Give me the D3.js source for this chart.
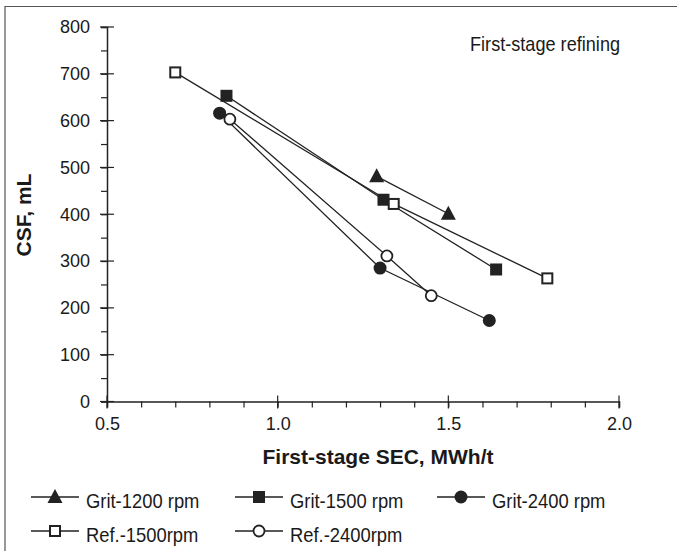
<!DOCTYPE html>
<html><head><meta charset="utf-8">
<script src="https://cdn.jsdelivr.net/npm/d3@7"></script>
<style>body{margin:0;background:#fff}svg{display:block}text{font-family:"Liberation Sans",Arial,sans-serif;fill:#1a1a1a}</style>
</head><body><svg id="c" width="677" height="551"></svg>
<script>
const xTicks = [0.5, 1.0, 1.5, 2.0];
const yTicks = [0, 100, 200, 300, 400, 500, 600, 700, 800];
const seriesNames = ["Grit-1200 rpm", "Grit-1500 rpm", "Grit-2400 rpm", "Ref.-1500rpm", "Ref.-2400rpm"];
const grit1200 = [[1.29, 481], [1.50, 401]];
const grit1500 = [[0.85, 653], [1.31, 431], [1.64, 282]];
const grit2400 = [[0.83, 616], [1.30, 285], [1.62, 173]];
const ref1500 = [[0.70, 703], [1.34, 422], [1.79, 263]];
const ref2400 = [[0.86, 603], [1.32, 311], [1.45, 226]];

const svg = d3.select("#c");
const ink = "#222";
const x = d3.scaleLinear().domain([0.5, 2.0]).range([107, 619]);
const y = d3.scaleLinear().domain([0, 800]).range([401.5, 27]);

// frame
svg.append("path").attr("d", "M5,551 V6.5 H677").attr("fill", "none").attr("stroke", "#555").attr("stroke-width", 1.2);

// axes
const xAx = svg.append("g").attr("transform", `translate(0,${y(0)})`)
  .call(d3.axisBottom(x).tickValues(d3.range(5, 21).map(d => d / 10)).tickSize(6).tickFormat(""));
xAx.select(".domain").attr("stroke", ink).attr("stroke-width", 1.5);
xAx.selectAll(".tick line").attr("stroke", ink).attr("stroke-width", 1.2);
const xMaj = svg.append("g").attr("transform", `translate(0,${y(0)})`)
  .call(d3.axisBottom(x).tickValues(xTicks).tickSize(0).tickPadding(16).tickFormat(d3.format(".1f")));
xMaj.select(".domain").remove();
xMaj.selectAll(".tick text").attr("font-size", 18).attr("fill", "#1a1a1a").attr("font-family", "Liberation Sans, Arial, sans-serif");
xTicks.forEach(t => svg.append("line").attr("x1", x(t)).attr("x2", x(t)).attr("y1", y(0) - 6).attr("y2", y(0) + 7).attr("stroke", ink).attr("stroke-width", 1.2));

const yAx = svg.append("g").attr("transform", `translate(${x(0.5)},0)`)
  .call(d3.axisLeft(y).tickValues(d3.range(0, 801, 50)).tickSize(6).tickFormat(""));
yAx.select(".domain").attr("stroke", ink).attr("stroke-width", 1.5);
yAx.selectAll(".tick line").attr("stroke", ink).attr("stroke-width", 1.2);
const yMaj = svg.append("g").attr("transform", `translate(${x(0.5)},0)`)
  .call(d3.axisLeft(y).tickValues(yTicks).tickSize(0).tickPadding(17).tickFormat(d3.format("d")));
yMaj.select(".domain").remove();
yMaj.selectAll(".tick text").attr("font-size", 18).attr("fill", "#1a1a1a").attr("font-family", "Liberation Sans, Arial, sans-serif");
yTicks.forEach(t => svg.append("line").attr("x1", x(0.5) - 7).attr("x2", x(0.5) + 7).attr("y1", y(t)).attr("y2", y(t)).attr("stroke", ink).attr("stroke-width", 1.2));

// labels
svg.append("text").attr("x", 378).attr("y", 464).attr("text-anchor", "middle").attr("font-size", 21).attr("font-weight", "bold").text("First-stage SEC, MWh/t");
svg.append("text").attr("transform", "translate(31,215) rotate(-90)").attr("text-anchor", "middle").attr("font-size", 21).attr("font-weight", "bold").text("CSF, mL");
svg.append("text").attr("transform", "translate(470,51) scale(0.93,1)").attr("font-size", 19.5).text("First-stage refining");

// markers
function marker(g, type, cx, cy) {
  if (type === "tri") g.append("path").attr("d", `M${cx},${cy - 8} L${cx + 7.5},${cy + 6} L${cx - 7.5},${cy + 6} Z`).attr("fill", ink);
  else if (type === "sq") g.append("rect").attr("x", cx - 6).attr("y", cy - 6).attr("width", 12).attr("height", 12).attr("fill", ink);
  else if (type === "circ") g.append("circle").attr("cx", cx).attr("cy", cy).attr("r", 6.5).attr("fill", ink);
  else if (type === "osq") g.append("rect").attr("x", cx - 5).attr("y", cy - 5).attr("width", 10).attr("height", 10).attr("fill", "#fff").attr("stroke", ink).attr("stroke-width", 2);
  else if (type === "ocirc") g.append("circle").attr("cx", cx).attr("cy", cy).attr("r", 5.5).attr("fill", "#fff").attr("stroke", ink).attr("stroke-width", 1.8);
}
const series = [
  {name: seriesNames[0], data: grit1200, m: "tri"},
  {name: seriesNames[1], data: grit1500, m: "sq"},
  {name: seriesNames[2], data: grit2400, m: "circ"},
  {name: seriesNames[3], data: ref1500, m: "osq"},
  {name: seriesNames[4], data: ref2400, m: "ocirc"}
];
const line = d3.line().x(d => x(d[0])).y(d => y(d[1]));
series.forEach(s => {
  svg.append("path").attr("d", line(s.data)).attr("fill", "none").attr("stroke", ink).attr("stroke-width", 1.3);
});
series.forEach(s => {
  const g = svg.append("g");
  s.data.forEach(d => marker(g, s.m, x(d[0]), y(d[1])));
});

// legend
const legPos = [[31, 497], [235, 497], [437, 497], [31, 531], [235, 531]];
series.forEach((s, i) => {
  const [lx, ly] = legPos[i];
  const g = svg.append("g");
  g.append("line").attr("x1", lx).attr("x2", lx + 48).attr("y1", ly).attr("y2", ly).attr("stroke", ink).attr("stroke-width", 1.3);
  marker(g, s.m, lx + 24, ly);
  g.append("text").attr("transform", `translate(${lx + 55},${ly + 11}) scale(0.92,1)`).attr("font-size", 20).text(s.name);
});
</script></body></html>
